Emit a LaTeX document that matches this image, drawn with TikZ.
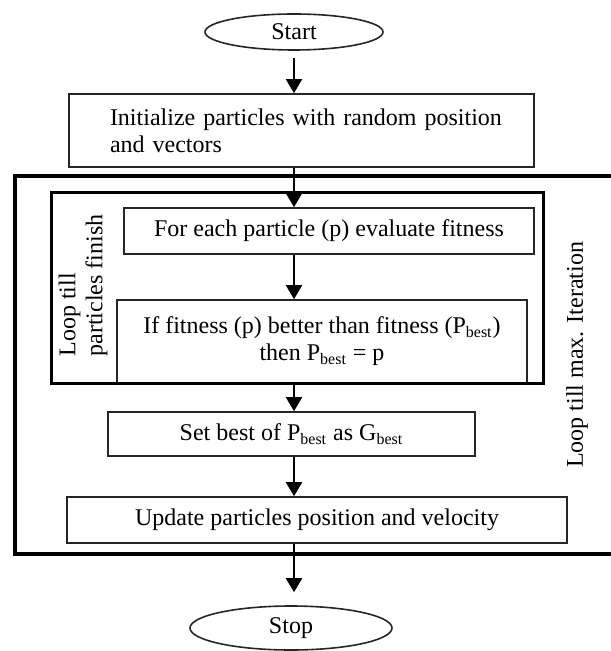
\documentclass[tikz,border=0pt]{standalone}
\usepackage{fontspec}
\setmainfont{Liberation Serif}
\usetikzlibrary{arrows.meta,shapes.geometric}
\tikzset{
 box/.style={draw=black!85, line width=0.8pt, rectangle, inner sep=0pt, align=center},
 term/.style={draw=black!85, line width=0.8pt, ellipse, inner sep=0pt},
 arr/.style={line width=1pt, -{Triangle[width=8pt,length=7pt]}},
 frame/.style={line width=2pt},
 innerframe/.style={draw, line width=1.5pt, rectangle, inner sep=0pt},
 lbl/.style={rotate=90, inner sep=0pt, align=left},
}
\begin{document}
\begin{tikzpicture}[x=0.5pt,y=-0.5pt, font=\fontsize{12pt}{13.5pt}\selectfont]
\useasboundingbox (0,0) rectangle (610,651);
\node[term, minimum width=89pt, minimum height=18pt] (start) at (294,32) {Start};
\node[box, minimum height=36.5pt, text width=191.5pt, inner xsep=20.5pt, align=left] (init) at (301.5,130.5) {\mbox{Initialize particles with random position}\\and vectors};
\node[box, minimum width=205pt, minimum height=41.5pt] (if) at (322,341.5) {If fitness (p) better than fitness (P\textsubscript{best})\\then P\textsubscript{best} = p};
\node[innerframe, minimum width=246pt, minimum height=95pt] (inner) at (297,288) {};
\node[box, minimum width=205pt, minimum height=23pt] (eval) at (329,231) {For each particle (p) evaluate fitness};
\node[lbl, anchor=west] (lblin) at (83,357) {Loop till\\particles finish};
\node[box, minimum width=183.5pt, minimum height=22pt] (set) at (291.5,434) {Set best of P\textsubscript{best} as G\textsubscript{best}};
\node[box, minimum width=250pt, minimum height=23pt] (upd) at (317,520) {Update particles position and velocity};
\node[term, minimum width=101pt, minimum height=22pt] (stop) at (291,628) {Stop};
\node[lbl] (lblout) at (577,355) {Loop till max. Iteration};
\coordinate (oa) at (640,176);
\coordinate (oc) at (15,176);
\coordinate (od) at (15,554);
\coordinate (ob) at (640,554);
\draw[frame] (oa) -- (oc) -- (od) -- (ob);
\coordinate (starttail) at ([yshift=-3.5pt]start.south);
\coordinate (stoptip) at ([yshift=6.5pt]stop.north);
\draw[arr] (starttail) -- (starttail |- init.north);
\draw[arr] (init.south -| start) -- (eval.north -| start);
\draw[arr] (eval.south -| start) -- (if.north -| start);
\draw[arr] (inner.south -| start) -- (set.north -| start);
\draw[arr] (set.south -| start) -- (upd.north -| start);
\draw[arr] (upd.south -| start) -- (stoptip -| start);
\end{tikzpicture}
\end{document}
